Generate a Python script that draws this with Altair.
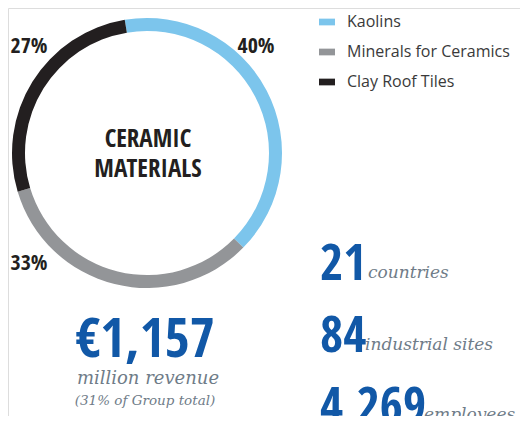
import math
import altair as alt
import pandas as pd

# ---- data ----
categories = ["Kaolins", "Minerals for Ceramics", "Clay Roof Tiles"]
shares = [40, 33, 27]
colors = ["#7cc5ec", "#939598", "#231f20"]

center_title = ["CERAMIC", "MATERIALS"]
revenue_value = "€1,157"
revenue_lines = ["million revenue", "(31% of Group total)"]
kpi_values = ["21", "84", "4,269"]
kpi_labels = ["countries", "industrial sites", "employees"]

df = pd.DataFrame({"category": categories, "share": shares, "idx": list(range(len(categories)))})

COND = "Open Sans Condensed, Roboto Condensed, DejaVu Sans Condensed, sans-serif"
SERIF = "DejaVu Serif, serif"
BLUE = "#1158a7"
GREY_TXT = "#6f7c88"

start = -9.5 * math.pi / 180
CX, CY = 139, 145

ring = alt.Chart(df).mark_arc(outerRadius=135, innerRadius=122).encode(
    theta=alt.Theta("share:Q", stack=True,
                    scale=alt.Scale(range=[start, start + 2 * math.pi])),
    order=alt.Order("idx:Q"),
    color=alt.Color(
        "category:N",
        sort=categories,
        scale=alt.Scale(domain=categories, range=colors),
        legend=alt.Legend(
            title=None, orient="none", legendX=311, legendY=6, padding=0,
            symbolType="M-1,-0.42H1V0.42H-1Z", symbolSize=256, symbolStrokeWidth=0,
            labelFont="Open Sans", labelFontSize=16, labelColor="#3a3a3a",
            labelOffset=12, rowPadding=14, labelLimit=300,
        ),
    ),
    x=alt.value(CX), y=alt.value(CY),
)

layers = [ring]

# percentage labels
pct_pos = {"Kaolins": (248, 38), "Minerals for Ceramics": (21, 255), "Clay Roof Tiles": (21, 38)}
for cat in categories:
    px, py = pct_pos[cat]
    layers.append(
        alt.Chart(df).transform_filter(alt.datum.category == cat)
        .transform_calculate(label="datum.share + '%'")
        .mark_text(font=COND, fontWeight="bold", fontSize=22, color="#231f20",
                   align="center", baseline="middle")
        .encode(text="label:N", x=alt.value(px), y=alt.value(py))
    )

def txt(s, x, y, **kw):
    return alt.Chart(pd.DataFrame({"t": [s]})).mark_text(**kw).encode(
        text="t:N", x=alt.value(x), y=alt.value(y))

# center title
layers.append(txt(center_title[0], 140, 131, font=COND, fontWeight="bold", fontSize=25,
                  color="#231f20", align="center", baseline="middle"))
layers.append(txt(center_title[1], 140, 161, font=COND, fontWeight="bold", fontSize=25,
                  color="#231f20", align="center", baseline="middle"))

# revenue block
layers.append(txt(revenue_value, 137, 349, font=COND, fontWeight="bold", fontSize=54,
                  color=BLUE, align="center", baseline="alphabetic"))
layers.append(txt(revenue_lines[0], 140, 376, font=SERIF, fontStyle="italic", fontSize=18,
                  color=GREY_TXT, align="center", baseline="alphabetic"))
layers.append(txt(revenue_lines[1], 137, 397, font=SERIF, fontStyle="italic", fontSize=13.5,
                  color=GREY_TXT, align="center", baseline="alphabetic"))

# KPI block
kpi_num_y = [272, 344, 415]
kpi_lab_x = [360, 357, 416]
kpi_lab_y = [270, 342, 412]
for v, lab, ny, lx, ly in zip(kpi_values, kpi_labels, kpi_num_y, kpi_lab_x, kpi_lab_y):
    layers.append(txt(v, 312, ny, font=COND, fontWeight="bold", fontSize=50,
                      color=BLUE, align="left", baseline="alphabetic"))
    layers.append(txt(lab, lx, ly, font=SERIF, fontStyle="italic", fontSize=17,
                      color=GREY_TXT, align="left", baseline="alphabetic"))

chart = alt.layer(*layers).properties(
    width=512, height=408, padding=0, autosize=alt.AutoSizeParams(type="none"),
).configure_view(stroke=None).configure(background="white")

chart.save("out.html", embed_options={"renderer": "svg", "actions": False})
